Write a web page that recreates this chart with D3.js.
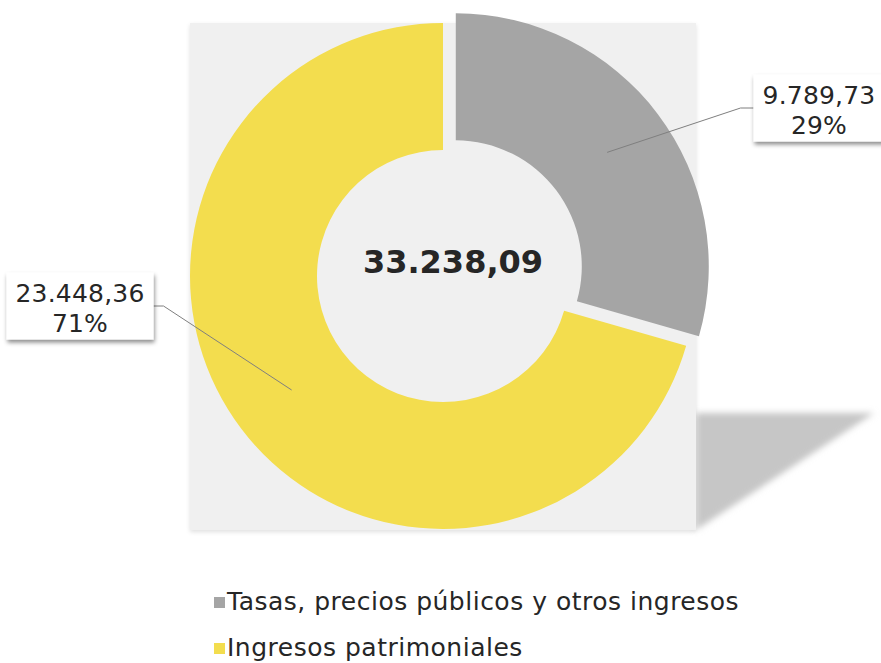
<!DOCTYPE html>
<html>
<head>
<meta charset="utf-8">
<script src="https://cdn.jsdelivr.net/npm/d3@7"></script>
<style>
  body { margin: 0; background: #fff; }
  svg { display: block; font-family: "DejaVu Sans", Verdana, sans-serif; }
</style>
</head>
<body>
<div id="chart"></div>
<script>
  var WIDTH = 881;
  var HEIGHT = 663;

  // data
  var categories = ["Tasas, precios públicos y otros ingresos", "Ingresos patrimoniales"];
  var values = [9789.73, 23448.36];
  var colors = ["#a5a5a5", "#f3dd4e"];
  var explode = [16, 0];
  // where the two callouts sit (box centres)
  var labelX = [819, 80];
  var labelY = [108, 306];

  var es = d3.formatLocale({decimal: ",", thousands: ".", grouping: [3], currency: ["", " €"]});
  var fmtVal = es.format(",.2f");
  var fmtPct = d3.format(".0%");

  var cx = 443, cy = 276, R = 253, r = 126;
  var total = d3.sum(values);

  var svg = d3.select("#chart").append("svg")
    .attr("width", WIDTH)
    .attr("height", HEIGHT);

  var defs = svg.append("defs");
  defs.append("filter").attr("id", "blur")
    .attr("x", "-20%").attr("y", "-20%").attr("width", "140%").attr("height", "140%")
    .append("feGaussianBlur").attr("stdDeviation", 3);
  defs.append("filter").attr("id", "boxShadow")
    .attr("x", "-20%").attr("y", "-20%").attr("width", "140%").attr("height", "160%")
    .append("feDropShadow")
    .attr("dx", 1).attr("dy", 3).attr("stdDeviation", 2)
    .attr("flood-color", "#000").attr("flood-opacity", 0.45);
  defs.append("filter").attr("id", "plotShadow")
    .attr("x", "-5%").attr("y", "-5%").attr("width", "110%").attr("height", "110%")
    .append("feDropShadow")
    .attr("dx", 0).attr("dy", 2).attr("stdDeviation", 2)
    .attr("flood-color", "#000").attr("flood-opacity", 0.12);

  // perspective shadow behind the plot area
  svg.append("path")
    .attr("d", d3.line()([[cx + R, cy + 137], [cx + R + 178, cy + 137], [cx + R, cy + R + 1]]))
    .attr("fill", "#c6c6c6")
    .attr("filter", "url(#blur)");

  // plot area
  svg.append("rect")
    .attr("x", cx - R).attr("y", cy - R)
    .attr("width", 2 * R).attr("height", 2 * R + 1)
    .attr("fill", "#f0f0f0")
    .attr("filter", "url(#plotShadow)");

  var pie = d3.pie().sort(null).value(function(d) { return d; });
  var arcs = pie(values);
  var arc = d3.arc().innerRadius(r).outerRadius(R);

  var offset = function(d, i) {
    var a = (d.startAngle + d.endAngle) / 2;
    return [Math.sin(a) * explode[i], -Math.cos(a) * explode[i]];
  };

  var g = svg.append("g").attr("transform", "translate(" + cx + "," + cy + ")");

  g.selectAll("path.slice")
    .data(arcs)
    .enter().append("path")
    .attr("class", "slice")
    .attr("d", arc)
    .attr("fill", function(d, i) { return colors[i]; })
    .attr("transform", function(d, i) {
      var o = offset(d, i);
      return "translate(" + o[0] + "," + o[1] + ")";
    });

  // total in the middle
  svg.append("text")
    .attr("x", cx + 10)
    .attr("y", cy - 3)
    .attr("text-anchor", "middle")
    .attr("font-size", 32)
    .attr("font-weight", "bold")
    .attr("fill", "#262626")
    .text(fmtVal(total));

  // callouts
  arcs.forEach(function(d, i) {
    var c = arc.centroid(d);
    var o = offset(d, i);
    var ax = cx + c[0] + o[0], ay = cy + c[1] + o[1];

    var lg = svg.append("g");
    var line = lg.append("path")
      .attr("fill", "none")
      .attr("stroke", "#7f7f7f")
      .attr("stroke-width", 1);

    var box = lg.append("rect")
      .attr("fill", "#fff")
      .attr("filter", "url(#boxShadow)");

    var t1 = lg.append("text")
      .attr("x", labelX[i]).attr("y", labelY[i] - 4)
      .attr("text-anchor", "middle")
      .attr("font-size", 25)
      .attr("letter-spacing", 0.2)
      .attr("fill", "#262626")
      .text(fmtVal(values[i]));
    var t2 = lg.append("text")
      .attr("x", labelX[i]).attr("y", labelY[i] + 26)
      .attr("text-anchor", "middle")
      .attr("font-size", 25)
      .attr("letter-spacing", 0.2)
      .attr("fill", "#262626")
      .text(fmtPct(values[i] / total));

    var w = Math.max(t1.node().getComputedTextLength(), t2.node().getComputedTextLength()) + 18;
    var h = 67;
    box.attr("x", labelX[i] - w / 2).attr("y", labelY[i] - h / 2)
      .attr("width", w).attr("height", h);

    var side = ax > labelX[i] ? labelX[i] + w / 2 : labelX[i] - w / 2;
    var elbow = ax > labelX[i] ? side + 10 : side - 13;
    line.attr("d", d3.line()([[ax, ay], [elbow, labelY[i]], [side, labelY[i]]]));
  });

  // legend
  var legend = svg.append("g");
  var rows = legend.selectAll("g")
    .data(categories)
    .enter().append("g")
    .attr("transform", function(d, i) { return "translate(214," + (610 + i * 46) + ")"; });
  rows.append("rect")
    .attr("x", 0).attr("y", -13)
    .attr("width", 11).attr("height", 11)
    .attr("fill", function(d, i) { return colors[i]; });
  rows.append("text")
    .attr("x", 13)
    .attr("font-size", 25)
    .attr("letter-spacing", 0.5)
    .attr("fill", "#262626")
    .text(function(d) { return d; });
</script>
</body>
</html>
